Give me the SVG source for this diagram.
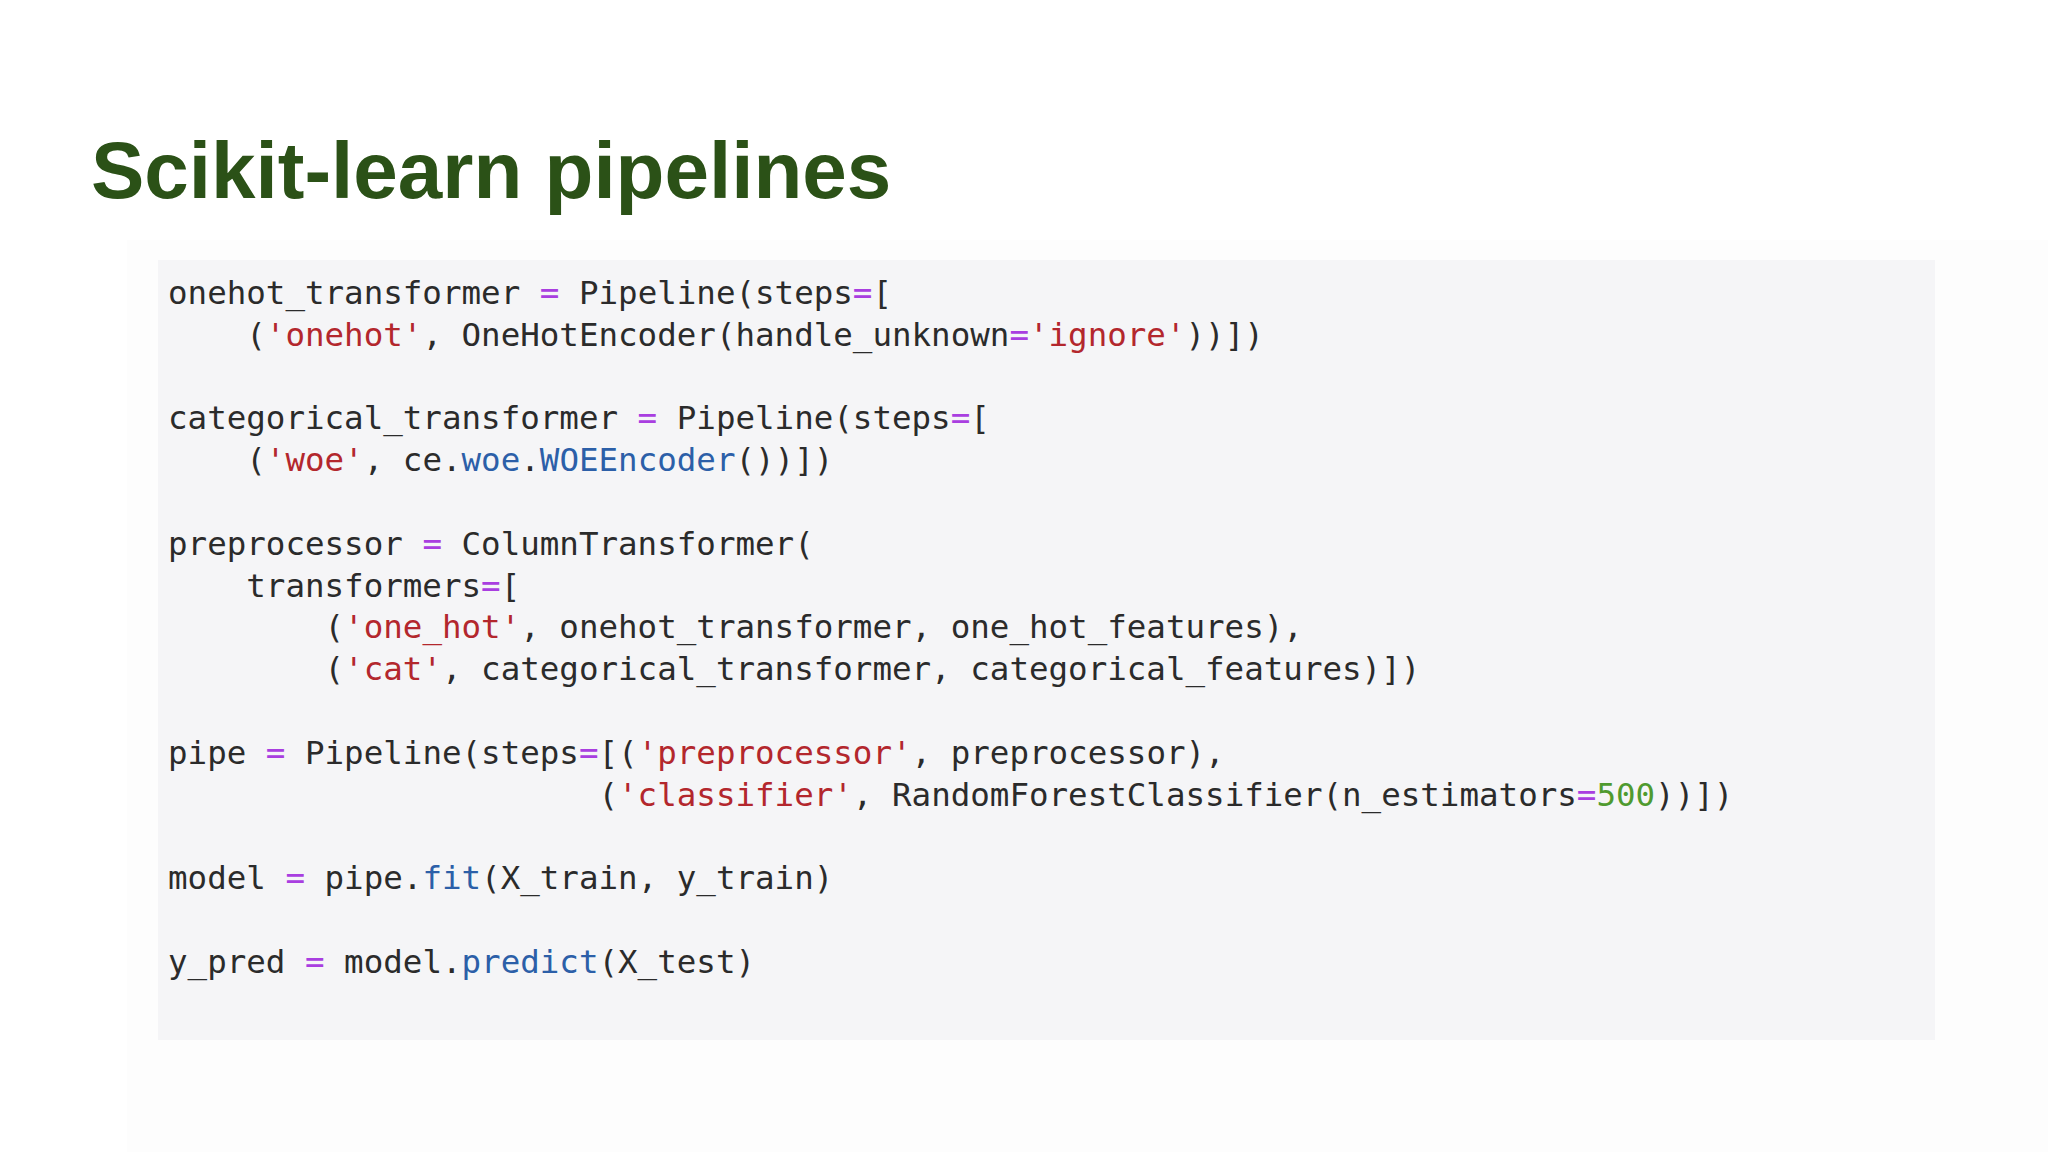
<svg xmlns="http://www.w3.org/2000/svg" width="2048" height="1152" viewBox="0 0 2048 1152">
<style>
.c{font-family:"DejaVu Sans Mono",monospace;font-size:32.5px;fill:#2b2b2b;white-space:pre}
.s{fill:#b3272d}.o{fill:#a93ee0}.b{fill:#2c5fa8}.n{fill:#4f9a2f}
</style>
<rect width="2048" height="1152" fill="#ffffff"/>
<rect x="127" y="240" width="1921" height="912" fill="#fdfdfd"/>
<text x="91" y="198" font-family="Liberation Sans, Arial, sans-serif" font-weight="bold" font-size="80" fill="#2b5117">Scikit-learn pipelines</text>
<rect x="158" y="260" width="1777" height="780" fill="#f5f5f7"/>
<g id="code" xml:space="preserve">
<text class="c" x="168" y="304">onehot_transformer <tspan class="o">=</tspan> Pipeline(steps<tspan class="o">=</tspan>[</text>
<text class="c" x="168" y="346">    (<tspan class="s">'onehot'</tspan>, OneHotEncoder(handle_unknown<tspan class="o">=</tspan><tspan class="s">'ignore'</tspan>))])</text>
<text class="c" x="168" y="429">categorical_transformer <tspan class="o">=</tspan> Pipeline(steps<tspan class="o">=</tspan>[</text>
<text class="c" x="168" y="471">    (<tspan class="s">'woe'</tspan>, ce.<tspan class="b">woe</tspan>.<tspan class="b">WOEEncoder</tspan>())])</text>
<text class="c" x="168" y="555">preprocessor <tspan class="o">=</tspan> ColumnTransformer(</text>
<text class="c" x="168" y="597">    transformers<tspan class="o">=</tspan>[</text>
<text class="c" x="168" y="638">        (<tspan class="s">'one_hot'</tspan>, onehot_transformer, one_hot_features),</text>
<text class="c" x="168" y="680">        (<tspan class="s">'cat'</tspan>, categorical_transformer, categorical_features)])</text>
<text class="c" x="168" y="764">pipe <tspan class="o">=</tspan> Pipeline(steps<tspan class="o">=</tspan>[(<tspan class="s">'preprocessor'</tspan>, preprocessor),</text>
<text class="c" x="168" y="806">                      (<tspan class="s">'classifier'</tspan>, RandomForestClassifier(n_estimators<tspan class="o">=</tspan><tspan class="n">500</tspan>))])</text>
<text class="c" x="168" y="889">model <tspan class="o">=</tspan> pipe.<tspan class="b">fit</tspan>(X_train, y_train)</text>
<text class="c" x="168" y="973">y_pred <tspan class="o">=</tspan> model.<tspan class="b">predict</tspan>(X_test)</text>
</g>
</svg>
